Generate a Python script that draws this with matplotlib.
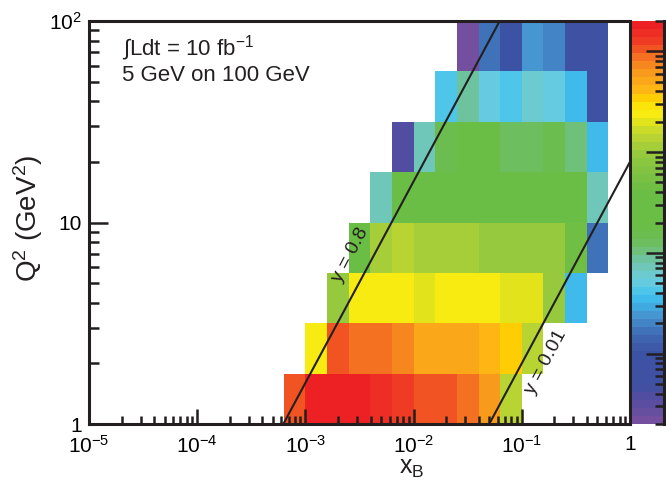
import numpy as np
import matplotlib
matplotlib.use("Agg")
import matplotlib.pyplot as plt
from matplotlib.colors import LinearSegmentedColormap, ListedColormap, LogNorm
from matplotlib.ticker import LogLocator, FixedLocator, FixedFormatter, NullFormatter

plt.rcParams['font.family'] = ['Liberation Sans', 'DejaVu Sans']
plt.rcParams['mathtext.fontset'] = 'custom'
plt.rcParams['mathtext.rm'] = 'Liberation Sans'
plt.rcParams['mathtext.it'] = 'Liberation Sans:italic'
plt.rcParams['mathtext.bf'] = 'Liberation Sans:bold'
plt.rcParams['mathtext.default'] = 'regular'

# ---------------- data ----------------
# bin edges (log10)
log_x_edges = [-3.2, -3.0, -2.8, -2.6, -2.4, -2.2, -2.0, -1.8, -1.6, -1.4,
               -1.2, -1.0, -0.8, -0.6, -0.4, -0.2, 0.0]
log_q2_edges = [0.0, 0.25, 0.5, 0.75, 1.0, 1.25, 1.5, 1.75, 2.0]

nan = np.nan
# event counts per bin, rows from low Q2 to high Q2, 16 x-bins each
row0 = [10000, 18000, 18000, 18000, 16600, 13200, 10000, 10000, 8300, 6600, 1350, nan, nan, nan, nan, nan]
row1 = [nan, 2500, 10000, 8700, 8700, 6900, 5260, 5260, 5260, 4180, 3320, 1350, nan, nan, nan, nan]
row2 = [nan, nan, 960, 2500, 2500, 2500, 2000, 2350, 2350, 2350, 2000, 2000, 960, 38, nan, nan]
row3 = [nan, nan, nan, 290, 1050, 1400, 1150, 1150, 1150, 900, 900, 900, 900, 500, 16, nan]
row4 = [nan, nan, nan, nan, 73, 290, 290, 290, 290, 290, 290, 290, 290, 290, 73, nan]
row5 = [nan, nan, nan, nan, nan, 3.9, 73, 140, 260, 260, 120, 120, 150, 105, 35, nan]
row6 = [nan, nan, nan, nan, nan, nan, nan, 42, 82, 53, 44, 60, 53, 33, 6.6, nan]
row7 = [nan, nan, nan, nan, nan, nan, nan, nan, 2.2, 16, 10, 25, 19, 6.6, 6.6, nan]

# kinematic limit lines: y = Q2 / (x s), s = 4 * E_e * E_p
E_e, E_p = 5.0, 100.0
y_values = [0.8, 0.01]
y_labels = ["y = 0.8", "y = 0.01"]

x_tick_vals = [1e-5, 1e-4, 1e-3, 1e-2, 1e-1, 1]
x_tick_labels = ['$10^{-5}$', '$10^{-4}$', '$10^{-3}$', '$10^{-2}$', '$10^{-1}$', '1']
y_tick_vals = [1, 10, 100]
y_tick_labels = ['1', '10', '$10^{2}$']

# ---------------- colormap (pretty palette, print tones) ----------------
anchors = [
    (0.000, '#7A4F9F'), (0.022, '#6A4FA0'), (0.047, '#5B4DA0'), (0.072, '#4E4EA1'),
    (0.097, '#3F51A3'), (0.171, '#3C52A4'), (0.196, '#3D5CAA'), (0.221, '#3F6DB5'),
    (0.246, '#4380C3'), (0.270, '#4595D1'), (0.295, '#3FAEE3'), (0.320, '#40C3EE'),
    (0.345, '#62CBE3'), (0.370, '#6DCAD0'), (0.395, '#6EC6B0'), (0.419, '#6EC190'),
    (0.444, '#6DBE65'), (0.469, '#6BBD50'), (0.494, '#6ABD45'), (0.581, '#6ABD45'),
    (0.618, '#7DC242'), (0.655, '#8DC63F'), (0.680, '#9CCB3B'), (0.705, '#B2D235'),
    (0.730, '#CCDB29'), (0.752, '#E2E21D'), (0.770, '#F7EC13'), (0.790, '#FCE50A'),
    (0.808, '#FFD200'),
    (0.829, '#FDB813'), (0.854, '#FAA61A'), (0.878, '#F7941D'), (0.903, '#F47920'),
    (0.928, '#F15A22'), (0.953, '#EF3B24'), (0.978, '#EE2A25'), (1.000, '#ED1C24')]
smooth = LinearSegmentedColormap.from_list('pretty', anchors)
cmap = ListedColormap([smooth((i + 0.5) / 50) for i in range(50)])
norm = LogNorm(vmin=2, vmax=20000)

# ---------------- figure ----------------
W, H = 666, 483
fig = plt.figure(figsize=(W / 100, H / 100), dpi=100)
ax = fig.add_axes([89 / W, 59 / H, 541 / W, 403 / H])
cax = fig.add_axes([632 / W, 59 / H, 32 / W, 403 / H])

xe = 10.0 ** np.array(log_x_edges)
ye = 10.0 ** np.array(log_q2_edges)
Z = np.ma.masked_invalid(np.array([row0, row1, row2, row3, row4, row5, row6, row7], dtype=float))
mesh = ax.pcolormesh(xe, ye, Z, cmap=cmap, norm=norm, edgecolors='none', antialiased=False)

ax.set_xscale('log')
ax.set_yscale('log')
ax.set_xlim(1e-5, 1)
ax.set_ylim(1, 100)

# kinematic lines
s = 4 * E_e * E_p
xline = np.logspace(-5, 0, 400)
for yv in y_values:
    q2 = yv * xline * s
    ax.plot(xline, q2, color='#231F20', lw=1.5, zorder=3)

ax.text(0.0026, 6.9, y_labels[0], rotation=62, rotation_mode='anchor',
        ha='center', va='center', fontsize=14, color='#231F20', zorder=4)
ax.text(0.166, 2.03, y_labels[1], rotation=62, rotation_mode='anchor',
        ha='center', va='center', fontsize=14, color='#231F20', zorder=4)

# axes styling
for side in ['left', 'bottom', 'top', 'right']:
    ax.spines[side].set_linewidth(2.2)
    ax.spines[side].set_color('#231F20')

ax.xaxis.set_major_locator(FixedLocator(x_tick_vals))
ax.xaxis.set_major_formatter(FixedFormatter(x_tick_labels))
ax.xaxis.set_minor_locator(LogLocator(base=10, subs=np.arange(2, 10), numticks=20))
ax.xaxis.set_minor_formatter(NullFormatter())
ax.yaxis.set_major_locator(FixedLocator(y_tick_vals))
ax.yaxis.set_major_formatter(FixedFormatter(y_tick_labels))
ax.yaxis.set_minor_locator(LogLocator(base=10, subs=np.arange(2, 10), numticks=20))
ax.yaxis.set_minor_formatter(NullFormatter())

ax.tick_params(axis='x', which='major', direction='in', length=11, width=1.8,
               top=False, labelsize=15, pad=8, color='#231F20')
ax.tick_params(axis='x', which='minor', direction='in', length=6, width=1.8,
               top=False, color='#231F20')
ax.tick_params(axis='y', which='major', direction='in', length=14, width=1.8,
               right=False, labelsize=15, pad=5, color='#231F20')
ax.tick_params(axis='y', which='minor', direction='in', length=7, width=1.8,
               right=False, color='#231F20')

ax.text(0.061, 0.933, '∫Ldt = 10 fb$^{-1}$', transform=ax.transAxes,
        fontsize=16, va='center', ha='left', color='#231F20')
ax.text(0.061, 0.866, '5 GeV on 100 GeV', transform=ax.transAxes,
        fontsize=16, va='center', ha='left', color='#231F20')

fig.text(28 / W, 1 - 218 / H, 'Q$^{2}$ (GeV$^{2}$)', rotation=90,
         ha='center', va='center', fontsize=20, color='#231F20')
fig.text(412 / W, 1 - 468 / H, 'x$_{B}$', ha='center', va='center',
         fontsize=18, color='#231F20')

# colorbar
cb = fig.colorbar(mesh, cax=cax)
cb.outline.set_visible(False)
cax.yaxis.set_ticks_position('right')
cax.tick_params(which='major', direction='in', length=13, width=1.8, labelright=False,
                color='#231F20')
cax.tick_params(which='minor', direction='in', length=6.5, width=1.8, color='#231F20')
cax.set_yticklabels([])
cax.yaxis.set_minor_formatter(NullFormatter())
cax.axvline(1.0, color='#231F20', lw=2.2, clip_on=False)

fig.savefig('out.png', dpi=100)
